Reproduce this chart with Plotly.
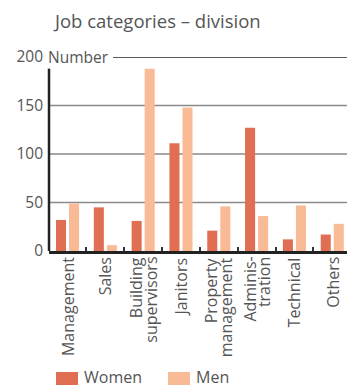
import plotly.graph_objects as go

# Job categories, split by gender
categories = ["Management", "Sales", "Building<br>supervisors", "Janitors",
              "Property<br>management", "Adminis-<br>tration", "Technical", "Others"]
women = [32, 45, 31, 111, 21, 127, 12, 17]
men = [49, 6, 188, 148, 46, 36, 47, 28]
series_names = ["Women", "Men"]
y_ticks = [0, 50, 100, 150, 200]
grid_levels = [50, 100, 150]

WOMEN_COLOR = "#E06E52"
MEN_COLOR = "#F9BA96"
TEXT_COLOR = "#555555"
AXIS_COLOR = "#222222"
FONT = "Open Sans"

W, H = 347, 385
ML, MR, MT, MB = 49, 0, 57, 134
PW = W - ML - MR
PH = H - MT - MB
LABEL_LINE_GAP = 15  # px between lines of a wrapped category label


def px_x(px):
    return (px - ML) / PW


def px_y(py):
    return (H - MB - py) / PH


fig = go.Figure()
fig.add_trace(go.Bar(x=categories, y=women, name=series_names[0],
                     marker=dict(color=WOMEN_COLOR, line=dict(width=0)),
                     showlegend=False))
fig.add_trace(go.Bar(x=categories, y=men, name=series_names[1],
                     marker=dict(color=MEN_COLOR, line=dict(width=0)),
                     showlegend=False))

shapes = []
# horizontal grid lines
for g in grid_levels:
    shapes.append(dict(type="line", xref="paper", yref="y", x0=0, x1=1, y0=g, y1=g,
                       line=dict(color="#8a8a8a", width=1.5), layer="below"))
# top reference line next to the unit label
shapes.append(dict(type="line", xref="paper", yref="y", x0=px_x(113), x1=1,
                   y0=y_ticks[-1], y1=y_ticks[-1],
                   line=dict(color=AXIS_COLOR, width=1.5), layer="below"))
# vertical axis line
shapes.append(dict(type="line", xref="paper", yref="y", x0=0, x1=0, y0=0, y1=max(men),
                   line=dict(color=AXIS_COLOR, width=2.5), layer="above"))

annotations = []

# rotated category labels, wrapped lines set close together
for cat in categories:
    lines = cat.split("<br>")
    n = len(lines)
    for i, line in enumerate(lines):
        annotations.append(dict(
            text=line, xref="x", yref="y", x=cat, y=0,
            xshift=(i - (n - 1) / 2) * LABEL_LINE_GAP, yshift=-4,
            xanchor="center", yanchor="top", textangle=-90, showarrow=False,
            font=dict(family=FONT, size=16, color=TEXT_COLOR)))

# legend swatches
legend_items = [(series_names[0], WOMEN_COLOR, 56), (series_names[1], MEN_COLOR, 168)]
for name, color, x0 in legend_items:
    shapes.append(dict(type="rect", xref="paper", yref="paper",
                       x0=px_x(x0), x1=px_x(x0 + 22), y0=px_y(372), y1=px_y(387),
                       fillcolor=color, line=dict(width=0)))
    annotations.append(dict(text=name, xref="paper", yref="paper",
                            x=px_x(x0 + 26), y=px_y(377), xanchor="left", yanchor="middle",
                            showarrow=False, font=dict(family=FONT, size=16, color=TEXT_COLOR)))

annotations.append(dict(text="Number", xref="paper", yref="y", x=px_x(46), y=y_ticks[-1],
                        xanchor="left", yanchor="middle", showarrow=False,
                        font=dict(family=FONT, size=15.5, color=TEXT_COLOR)))

fig.update_layout(
    width=W, height=H,
    margin=dict(l=ML, r=MR, t=MT, b=MB, pad=0),
    paper_bgcolor="white", plot_bgcolor="white",
    barmode="group", bargap=0.31, bargroupgap=0.23,
    title=dict(text="Job categories – division", x=55 / W, xanchor="left",
               y=1 - 22 / H, yanchor="middle", xref="container", yref="container",
               font=dict(family=FONT, size=18.5, color=TEXT_COLOR)),
    font=dict(family=FONT, color=TEXT_COLOR),
    shapes=shapes,
    annotations=annotations,
    showlegend=False,
)

fig.update_xaxes(
    type="category", range=[-0.49, 7.39],
    showline=True, linecolor=AXIS_COLOR, linewidth=3,
    ticks="inside", tickson="boundaries", ticklen=4, tickwidth=1.5, tickcolor="#333333",
    showticklabels=False, showgrid=False, zeroline=False,
)
fig.update_yaxes(
    range=[0, 200], tickvals=y_ticks, ticktext=[str(v) for v in y_ticks],
    showline=False, showgrid=False, zeroline=False, ticks="",
    ticklabelstandoff=5,
    tickfont=dict(family=FONT, size=15.5, color=TEXT_COLOR),
)

fig.write_html("out.html")
